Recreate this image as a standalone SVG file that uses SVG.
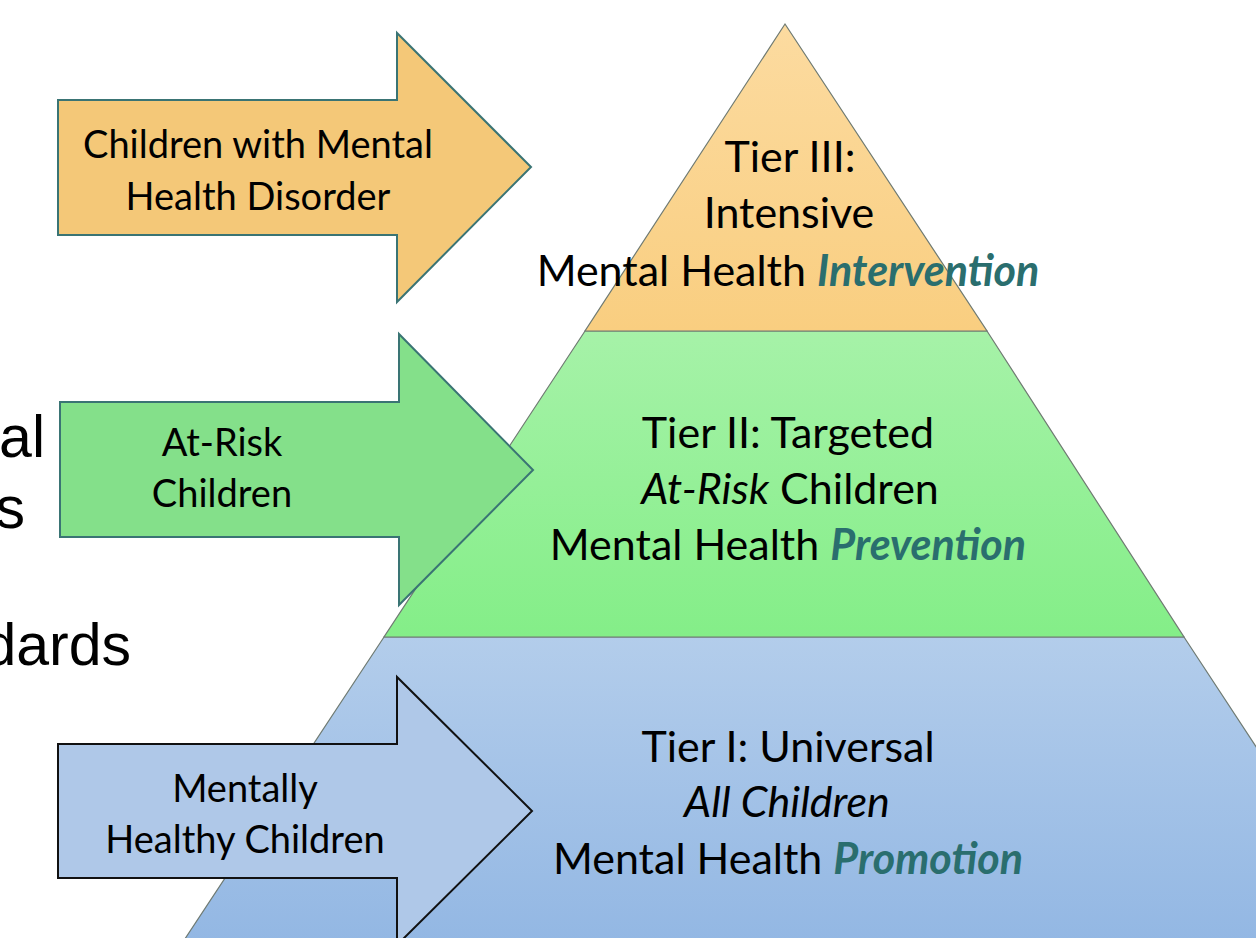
<svg xmlns="http://www.w3.org/2000/svg" width="1256" height="938" viewBox="0 0 1256 938">
  <defs>
    <linearGradient id="gOrange" x1="0" y1="0" x2="0" y2="1">
      <stop offset="0" stop-color="#FCDBA0"/>
      <stop offset="1" stop-color="#F9CE80"/>
    </linearGradient>
    <linearGradient id="gGreen" x1="0" y1="0" x2="0" y2="1">
      <stop offset="0" stop-color="#A6F2A8"/>
      <stop offset="1" stop-color="#84EE88"/>
    </linearGradient>
    <linearGradient id="gBlue" x1="0" y1="0" x2="0" y2="1">
      <stop offset="0" stop-color="#B3CDEB"/>
      <stop offset="1" stop-color="#91B6E3"/>
    </linearGradient>
    <style>
      .tier { stroke: #6f7a72; stroke-width: 1.2; }
      .lbl { font-family: Lato, "Open Sans", sans-serif; font-size: 43px; fill: #000; text-anchor: middle; }
      .albl { font-family: Lato, "Open Sans", sans-serif; font-size: 38px; fill: #000; text-anchor: middle; }
      .em { font-style: italic; }
      .key { font-style: italic; font-weight: bold; fill: #2A6E6E; }
      .slide { font-family: "Liberation Sans", Arial, sans-serif; font-size: 59px; fill: #000; text-anchor: end; }
    </style>
  </defs>

  <rect width="1256" height="938" fill="#ffffff"/>

  <!-- fragments of slide body text at the left edge -->
  <g id="slide-text">
    <text class="slide" x="45" y="457">al</text>
    <text class="slide" x="25" y="528">s</text>
    <text class="slide" x="131" y="665">dards</text>
  </g>

  <!-- pyramid tiers -->
  <g id="tier1">
    <polygon class="tier" points="384,637 1184,637 1396,960 171,960" fill="url(#gBlue)"/>
  </g>
  <g id="tier2">
    <polygon class="tier" points="585,331 987,331 1184,637 384,637" fill="url(#gGreen)"/>
  </g>
  <g id="tier3">
    <polygon class="tier" points="785,24 987,331 585,331" fill="url(#gOrange)"/>
  </g>

  <!-- arrows pointing into the tiers -->
  <g id="connectors">
    <g id="arrow-disorder">
      <polygon points="58,100 397,100 397,33 531,167 397,302 397,235 58,235" fill="#F4C878" stroke="#3A7474" stroke-width="2"/>
      <text class="albl" x="258" y="158">Children with Mental</text>
      <text class="albl" x="258" y="210">Health Disorder</text>
    </g>
    <g id="arrow-atrisk">
      <polygon points="60,402 399,402 399,334 533,470 399,605 399,537 60,537" fill="#84E08A" stroke="#3A7474" stroke-width="2"/>
      <text class="albl" x="222" y="456">At-Risk</text>
      <text class="albl" x="222" y="507">Children</text>
    </g>
    <g id="arrow-healthy">
      <polygon points="58,744 397,744 397,677 532,811 397,945 397,878 58,878" fill="#AFC8E8" stroke="#111111" stroke-width="2"/>
      <text class="albl" x="245" y="802">Mentally</text>
      <text class="albl" x="245" y="853">Healthy Children</text>
    </g>
  </g>

  <!-- tier labels -->
  <g id="tier3-label">
    <text class="lbl" x="790" y="172">Tier III:</text>
    <text class="lbl" x="789" y="228">Intensive</text>
    <text class="lbl" x="788" y="286">Mental Health <tspan class="key">Intervention</tspan></text>
  </g>
  <g id="tier2-label">
    <text class="lbl" x="788" y="448">Tier II: Targeted</text>
    <text class="lbl" x="790" y="504"><tspan class="em">At-Risk</tspan> Children</text>
    <text class="lbl" x="788" y="560">Mental Health <tspan class="key">Prevention</tspan></text>
  </g>
  <g id="tier1-label">
    <text class="lbl" x="788" y="762">Tier I: Universal</text>
    <text class="lbl" x="787" y="817"><tspan class="em">All Children</tspan></text>
    <text class="lbl" x="788" y="874">Mental Health <tspan class="key">Promotion</tspan></text>
  </g>
</svg>
